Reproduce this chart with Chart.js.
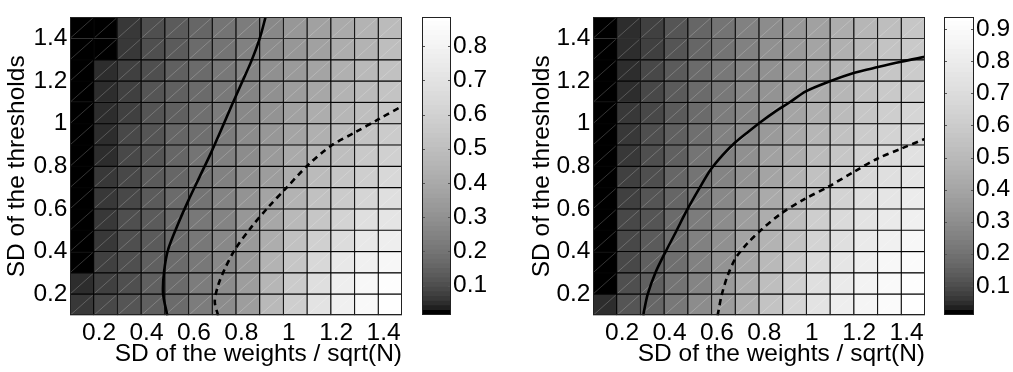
<!DOCTYPE html>
<html>
<head>
<meta charset="utf-8">
<script src="https://cdn.jsdelivr.net/npm/chart.js@4.4.1/dist/chart.umd.min.js"></script>
<style>
  body { margin: 0; background: #fff; }
  #wrap { position: relative; width: 1013px; height: 372px; }
  canvas { position: absolute; top: 0; }
</style>
</head>
<body>
<div id="wrap">
  <canvas id="heatL" width="410" height="372" style="left:0px"></canvas>
  <canvas id="barL" width="96" height="372" style="left:410px"></canvas>
  <canvas id="heatR" width="428" height="372" style="left:506px"></canvas>
  <canvas id="barR" width="79" height="372" style="left:934px"></canvas>
</div>
<script>
// grid edges (SD of weights / sqrt(N) on x, SD of thresholds on y)
const xEdges = [0.0775, 0.1775, 0.2775, 0.3775, 0.4775, 0.5775, 0.6775, 0.7775,
                0.8775, 0.9775, 1.0775, 1.1775, 1.2775, 1.3775, 1.4775];
const yEdges = [0.1, 0.2, 0.3, 0.4, 0.5, 0.6, 0.7, 0.8, 0.9, 1.0, 1.1, 1.2, 1.3, 1.4, 1.5];

const xTicks = [0.2, 0.4, 0.6, 0.8, 1, 1.2, 1.4];
const xTickLabels = ['0.2', '0.4', '0.6', '0.8', '1', '1.2', '1.4'];
const yTicks = [0.2, 0.4, 0.6, 0.8, 1, 1.2, 1.4];
const yTickLabels = ['0.2', '0.4', '0.6', '0.8', '1', '1.2', '1.4'];
const cbTicksL = [0.1, 0.2, 0.3, 0.4, 0.5, 0.6, 0.7, 0.8];
const cbTicksR = [0.1, 0.2, 0.3, 0.4, 0.5, 0.6, 0.7, 0.8, 0.9];

const xTitle = 'SD of the weights / sqrt(N)';
const yTitle = 'SD of the thresholds';

// left panel, rows from bottom (y 0.1-0.2) to top (1.4-1.5)
const zLeft = [
  [.059, .087, .113, .143, .176, .220, .277, .353, .468, .583, .699, .786, .839, .886],
  [.042, .078, .109, .140, .176, .220, .273, .349, .458, .572, .681, .767, .819, .859],
  [.014, .069, .104, .138, .173, .217, .269, .340, .439, .540, .640, .723, .780, .826],
  [.014, .066, .100, .135, .170, .214, .262, .328, .415, .508, .589, .663, .723, .774],
  [.014, .062, .098, .133, .168, .207, .255, .316, .392, .473, .545, .611, .669, .717],
  [.014, .059, .094, .128, .165, .204, .248, .304, .370, .444, .508, .567, .622, .669],
  [.014, .055, .091, .125, .159, .198, .241, .292, .353, .420, .478, .534, .583, .628],
  [.014, .050, .087, .120, .156, .194, .234, .284, .336, .397, .453, .503, .550, .594],
  [.014, .048, .083, .118, .154, .188, .227, .273, .324, .379, .429, .478, .524, .567],
  [.014, .045, .080, .113, .148, .182, .220, .266, .312, .362, .411, .458, .503, .545],
  [.014, .045, .076, .111, .143, .176, .214, .255, .300, .349, .392, .439, .483, .524],
  [.014, .045, .072, .106, .138, .170, .207, .248, .288, .336, .379, .425, .468, .508],
  [.014, .014, .066, .100, .133, .165, .201, .241, .277, .324, .366, .411, .448, .493],
  [.014, .014, .062, .096, .128, .159, .194, .230, .269, .316, .357, .402, .439, .483]
];

// right panel
const zRight = [
  [.049, .125, .167, .222, .289, .366, .452, .553, .652, .739, .812, .860, .903, .939],
  [.009, .105, .152, .205, .270, .344, .432, .525, .622, .714, .792, .846, .888, .917],
  [.009, .096, .141, .195, .254, .327, .413, .498, .593, .682, .759, .819, .867, .896],
  [.009, .089, .133, .185, .243, .310, .389, .472, .558, .646, .720, .785, .833, .867],
  [.009, .083, .125, .176, .229, .293, .366, .442, .525, .610, .682, .746, .792, .833],
  [.009, .077, .117, .167, .218, .277, .344, .417, .493, .575, .646, .707, .759, .799],
  [.009, .071, .110, .158, .208, .266, .327, .394, .467, .542, .610, .670, .720, .759],
  [.009, .066, .103, .149, .198, .254, .314, .375, .442, .509, .575, .634, .682, .727],
  [.009, .060, .098, .144, .192, .243, .297, .357, .417, .483, .542, .598, .646, .689],
  [.009, .055, .092, .138, .182, .232, .285, .339, .398, .457, .514, .570, .616, .658],
  [.009, .051, .087, .133, .176, .222, .274, .327, .380, .432, .488, .542, .587, .628],
  [.009, .046, .083, .127, .170, .215, .266, .314, .362, .413, .467, .520, .564, .604],
  [.009, .042, .079, .122, .164, .208, .254, .301, .348, .398, .447, .498, .547, .587],
  [.009, .039, .075, .117, .158, .201, .243, .289, .335, .384, .432, .483, .531, .570]
];

// contour curves
const solidLx = [0.488, 0.470, 0.474, 0.491, 0.534, 0.576, 0.625, 0.674, 0.716, 0.758, 0.800, 0.840, 0.878, 0.902];
const solidLy = [0.1, 0.203, 0.303, 0.409, 0.532, 0.638, 0.753, 0.868, 0.974, 1.082, 1.188, 1.288, 1.402, 1.5];
const dashLx = [0.702, 0.688, 0.702, 0.730, 0.773, 0.843, 0.913, 0.984, 1.082, 1.180, 1.279, 1.377, 1.4775];
const dashLy = [0.1, 0.165, 0.241, 0.318, 0.409, 0.516, 0.608, 0.692, 0.807, 0.898, 0.959, 1.020, 1.082];
const solidRx = [0.289, 0.308, 0.342, 0.384, 0.427, 0.473, 0.524, 0.574, 0.625, 0.679, 0.734, 0.789, 0.844,
                 0.907, 0.975, 1.074, 1.180, 1.279, 1.377, 1.4775];
const solidRy = [0.1, 0.199, 0.304, 0.400, 0.492, 0.593, 0.693, 0.785, 0.854, 0.914, 0.964, 1.012, 1.056,
                 1.101, 1.152, 1.198, 1.239, 1.266, 1.291, 1.314];
const dashRx = [0.603, 0.620, 0.645, 0.680, 0.730, 0.786, 0.870, 0.969, 1.074, 1.180, 1.278, 1.377, 1.4775];
const dashRy = [0.1, 0.195, 0.287, 0.371, 0.440, 0.501, 0.578, 0.646, 0.707, 0.776, 0.837, 0.883, 0.929];

const FONT = "'Liberation Sans', Arial, Helvetica, sans-serif";
const FS = 24.5;

// brightened gray colormap, 64 levels
function levelGray(k) {
  const g = Math.round(255 * Math.sqrt(k / 63));
  return 'rgb(' + g + ',' + g + ',' + g + ')';
}
function grayFor(v, range) {
  const t = (v - range[0]) / (range[1] - range[0]);
  const k = Math.min(63, Math.max(0, Math.floor(t * 64)));
  return levelGray(k);
}
function rangeOf(z) {
  const all = z.flat();
  return [Math.min(...all), Math.max(...all)];
}

function cellSets(z, range) {
  return z.map((row, r) => ({
    type: 'bar',
    order: 1,
    data: row.map((v, c) => ({ x: (xEdges[c] + xEdges[c + 1]) / 2, y: [yEdges[r], yEdges[r + 1]] })),
    backgroundColor: row.map(v => grayFor(v, range)),
    borderColor: '#050505',
    borderWidth: 0.9,
    borderSkipped: false,
    barPercentage: 1,
    categoryPercentage: 1,
    grouped: false
  }));
}

function curve(xs, ys, dashed) {
  return {
    type: 'line',
    order: 0,
    data: xs.map((x, i) => ({ x: x, y: ys[i] })),
    borderColor: '#000',
    borderWidth: 2.6,
    borderDash: dashed ? [6, 4.5] : [],
    pointRadius: 0,
    tension: 0.3,
    fill: false
  };
}

const cellDiagonals = {
  id: 'cellDiagonals',
  afterDatasetDraw(chart, args) {
    if (args.meta.type !== 'bar') return;
    const ctx = chart.ctx;
    ctx.save();
    ctx.strokeStyle = 'rgba(255,255,255,0.3)';
    ctx.lineWidth = 0.7;
    args.meta.data.forEach(el => {
      const p = el.getProps(['x', 'y', 'base', 'width'], true);
      ctx.beginPath();
      ctx.moveTo(p.x - p.width / 2 + 1, p.base - 1);
      ctx.lineTo(p.x + p.width / 2 - 1, p.y + 1);
      ctx.stroke();
    });
    ctx.restore();
  }
};

const frame = {
  id: 'frame',
  afterDraw(chart) {
    const a = chart.chartArea, ctx = chart.ctx;
    ctx.save();
    ctx.strokeStyle = '#222';
    ctx.lineWidth = 1;
    ctx.strokeRect(Math.round(a.left) + 0.5, Math.round(a.top) + 0.5,
                   Math.round(a.right - a.left) - 1, Math.round(a.bottom - a.top) - 1);
    ctx.restore();
  }
};

const cbTickMarks = {
  id: 'cbTickMarks',
  afterDraw(chart) {
    const a = chart.chartArea, ctx = chart.ctx, ys = chart.scales.y;
    ctx.save();
    ctx.strokeStyle = '#555';
    ctx.lineWidth = 1;
    ys.ticks.forEach(t => {
      const py = Math.round(ys.getPixelForValue(t.value)) + 0.5;
      ctx.beginPath();
      ctx.moveTo(a.left, py); ctx.lineTo(a.left + 3, py);
      ctx.moveTo(a.right - 3, py); ctx.lineTo(a.right, py);
      ctx.stroke();
    });
    ctx.restore();
  }
};

function heatChart(id, z, curves, yAxisW, padRight, yTitlePad) {
  const range = rangeOf(z);
  return new Chart(document.getElementById(id), {
    data: { datasets: curves.concat(cellSets(z, range)) },
    plugins: [cellDiagonals, frame],
    options: {
      responsive: false,
      animation: false,
      devicePixelRatio: 1,
      layout: { padding: { top: 10, right: padRight, left: 0, bottom: 0 } },
      plugins: { legend: { display: false }, tooltip: { enabled: false } },
      scales: {
        x: {
          type: 'linear', min: xEdges[0], max: xEdges[xEdges.length - 1], offset: false,
          afterBuildTicks: s => { s.ticks = xTicks.map(v => ({ value: v })); },
          afterFit: s => { s.height = 56.5; },
          grid: { display: false, drawTicks: false },
          border: { display: false },
          ticks: {
            autoSkip: false, maxRotation: 0, padding: 3, color: '#000',
            font: { family: FONT, size: FS },
            callback: (v, i) => xTickLabels[i]
          },
          title: { display: true, text: xTitle, align: 'end', color: '#000',
                   font: { family: FONT, size: FS }, padding: { top: 0, bottom: 3.3 } }
        },
        y: {
          type: 'linear', min: yEdges[0], max: yEdges[yEdges.length - 1],
          afterBuildTicks: s => { s.ticks = yTicks.map(v => ({ value: v })); },
          afterFit: s => { s.width = yAxisW; },
          grid: { display: false, drawTicks: false },
          border: { display: false },
          ticks: {
            autoSkip: false, padding: 2.5, color: '#000',
            font: { family: FONT, size: FS },
            callback: (v, i) => yTickLabels[i]
          },
          title: { display: true, text: yTitle, color: '#000', font: { family: FONT, size: FS },
                   padding: { top: yTitlePad, bottom: 0 } }
        }
      }
    }
  });
}

function colorbarChart(id, z, ticks, padLeft, axisW) {
  const range = rangeOf(z);
  const step = (range[1] - range[0]) / 64;
  const bands = [];
  for (let k = 0; k < 64; k++) {
    bands.push({
      data: [[range[0], range[0] + (k + 1) * step]],
      backgroundColor: levelGray(k),
      borderWidth: 0,
      barPercentage: 1,
      categoryPercentage: 1,
      grouped: false
    });
  }
  return new Chart(document.getElementById(id), {
    type: 'bar',
    data: { labels: [''], datasets: bands },
    plugins: [cbTickMarks, frame],
    options: {
      responsive: false,
      animation: false,
      devicePixelRatio: 1,
      layout: { padding: { top: 10, bottom: 57, left: padLeft, right: 0 } },
      plugins: { legend: { display: false }, tooltip: { enabled: false } },
      scales: {
        x: { display: false },
        y: {
          position: 'right', min: range[0], max: range[1],
          afterBuildTicks: s => { s.ticks = ticks.map(v => ({ value: v })); },
          afterFit: s => { s.width = axisW; },
          grid: { display: false, drawTicks: false },
          border: { display: false },
          ticks: {
            autoSkip: false, padding: 2, color: '#000',
            font: { family: FONT, size: FS },
            callback: (v, i) => String(ticks[i])
          }
        }
      }
    }
  });
}

heatChart('heatL', zLeft, [curve(solidLx, solidLy, false), curve(dashLx, dashLy, true)], 70, 8, 2.3);
colorbarChart('barL', zLeft, cbTicksL, 12, 55);
heatChart('heatR', zRight, [curve(solidRx, solidRy, false), curve(dashRx, dashRy, true)], 87, 9, 21.8);
colorbarChart('barR', zRight, cbTicksR, 10, 39);
</script>
</body>
</html>
